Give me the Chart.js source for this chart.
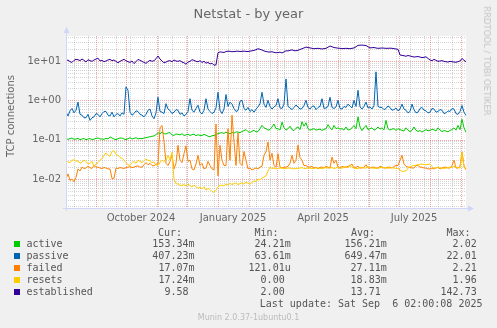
<!DOCTYPE html>
<html>
<head>
<meta charset="utf-8">
<script src="https://cdn.jsdelivr.net/npm/chart.js@4/dist/chart.umd.min.js"></script>
<style>
  html, body { margin: 0; padding: 0; background: #f0f0f0; }
  #wrap { position: relative; width: 497px; height: 328px; overflow: hidden; color: #666; font-family: "DejaVu Sans", sans-serif; }
  canvas { position: absolute; left: 0; top: 0; }
  .t { position: absolute; white-space: pre; line-height: 12px; }
  .mono { font-family: "DejaVu Sans Mono", monospace; font-size: 10px; color: #555; }
  .sw { position: absolute; width: 6px; height: 6px; }
</style>
</head>
<body>
<div id="wrap">
  <canvas id="c" width="497" height="328"></canvas>
</div>
<script>
// Samples every 2 days, 2024-08-02 .. 2025-09-06 (munin "year" view = 400 days)
const STEP_DAYS = 2;
const START = Date.UTC(2024, 7, 2);

const active = [
  0.105,0.102,0.106,0.110,0.102,0.104,0.108,0.100,0.104,0.107,0.100,0.104,0.106,0.101,0.103,0.108,0.110,0.104,0.104,0.102,
  0.108,0.104,0.118,0.110,0.104,0.100,0.106,0.110,0.110,0.104,0.100,0.106,0.112,0.104,0.108,0.112,0.104,0.108,0.106,0.110,
  0.112,0.116,0.118,0.122,0.124,0.135,0.150,0.140,0.156,0.142,0.140,0.148,0.152,0.132,0.128,0.140,0.136,0.132,0.142,0.128,
  0.132,0.138,0.128,0.134,0.138,0.126,0.134,0.128,0.128,0.136,0.130,0.122,0.118,0.126,0.128,0.134,0.142,0.148,0.150,0.144,
  0.156,0.146,0.142,0.152,0.146,0.158,0.156,0.150,0.162,0.170,0.180,0.160,0.152,0.165,0.172,0.158,0.160,0.190,0.230,0.200,
  0.190,0.175,0.180,0.210,0.250,0.190,0.190,0.176,0.280,0.200,0.175,0.190,0.220,0.180,0.170,0.195,0.210,0.180,0.286,0.220,
  0.270,0.190,0.175,0.182,0.190,0.176,0.180,0.186,0.172,0.182,0.190,0.240,0.200,0.178,0.230,0.190,0.200,0.185,0.190,0.176,
  0.210,0.176,0.180,0.200,0.230,0.190,0.380,0.210,0.170,0.200,0.230,0.180,0.190,0.200,0.174,0.186,0.210,0.185,0.200,0.178,
  0.310,0.190,0.175,0.186,0.190,0.172,0.190,0.180,0.172,0.166,0.200,0.176,0.160,0.172,0.210,0.174,0.162,0.170,0.156,0.168,
  0.180,0.168,0.172,0.184,0.178,0.166,0.200,0.176,0.160,0.170,0.165,0.158,0.172,0.180,0.200,0.175,0.230,0.180,0.330,0.200,
  0.153
];
const passive = [
  0.50,0.40,0.54,0.62,0.48,0.56,0.90,0.44,0.42,0.36,0.36,0.44,0.31,0.36,0.38,0.46,0.44,0.38,0.46,0.52,
  0.52,0.42,0.40,0.50,0.38,0.44,0.46,0.40,0.48,0.44,2.20,1.80,0.50,0.42,0.46,0.54,0.52,0.44,0.42,0.38,
  0.44,0.56,0.60,0.40,0.34,0.48,1.20,0.52,0.50,0.46,0.82,0.60,0.55,0.46,0.50,0.58,0.56,0.44,0.48,0.40,
  0.44,0.52,1.10,0.56,0.50,0.62,0.75,0.50,0.45,0.56,1.10,0.60,0.52,0.46,0.50,0.64,1.60,0.56,0.46,0.60,
  1.40,0.70,0.90,0.80,0.62,0.52,0.55,0.95,1.00,0.62,0.56,0.66,0.52,0.58,0.50,0.60,0.68,0.82,1.60,0.80,
  0.66,1.00,0.70,0.60,0.68,0.74,1.10,0.64,0.62,0.80,3.50,0.70,0.64,0.58,0.66,0.76,0.68,0.60,0.62,0.74,
  1.00,0.66,0.60,0.70,0.72,0.58,0.66,0.70,1.10,0.62,0.64,0.70,1.20,0.66,0.62,0.68,1.00,0.62,0.60,0.70,
  0.66,0.80,0.72,0.64,1.00,0.70,1.80,0.68,0.60,0.70,0.90,0.64,0.68,0.60,0.74,5.30,0.70,0.66,0.66,0.58,
  0.62,0.72,0.66,0.56,0.58,0.64,0.54,0.60,0.80,0.60,0.56,0.48,0.52,0.80,0.58,0.48,0.50,0.62,0.66,0.56,
  0.54,0.48,0.50,0.62,0.60,0.50,0.52,0.58,0.56,0.46,0.48,0.54,0.52,0.62,0.60,0.46,0.44,0.52,0.74,0.50,
  0.41
];
const failed = [
  0.0100,0.0135,0.0092,0.0100,0.0085,0.0110,0.0180,0.0160,0.0200,0.0185,0.0190,0.0210,0.0195,0.0185,0.0220,0.0200,0.0200,0.0190,0.0185,0.0195,
  0.0190,0.0180,0.0180,0.0102,0.0105,0.0190,0.0185,0.0195,0.0190,0.0185,0.0195,0.0200,0.0205,0.0195,0.0200,0.0210,0.0215,0.0200,0.0200,0.0230,
  0.0260,0.0230,0.0250,0.0220,0.0215,0.0240,0.0240,0.2000,0.2300,0.0900,0.0250,0.0220,0.0280,0.0400,0.0180,0.0250,0.0720,0.0300,0.0260,0.0440,
  0.0700,0.0280,0.0300,0.0180,0.0170,0.0240,0.0400,0.0220,0.0250,0.0180,0.0190,0.0280,0.0220,0.0180,0.0170,0.2500,0.0120,0.0720,0.0300,0.0220,
  0.0220,0.1900,0.0300,0.4200,0.0900,0.0220,0.1500,0.0250,0.0220,0.0500,0.0300,0.0180,0.0190,0.0170,0.0180,0.0190,0.0180,0.0200,0.0210,0.0400,
  0.0500,0.0870,0.0300,0.0450,0.0220,0.0200,0.0440,0.0200,0.0190,0.0200,0.0200,0.0210,0.0250,0.0400,0.0250,0.0300,0.0730,0.0350,0.0300,0.0220,
  0.0220,0.0200,0.0200,0.0210,0.0190,0.0200,0.0180,0.0200,0.0200,0.0190,0.0210,0.0200,0.0190,0.0360,0.0250,0.0300,0.0200,0.0190,0.0210,0.0200,
  0.0200,0.0210,0.0220,0.0240,0.0190,0.0200,0.0210,0.0190,0.0190,0.0200,0.0230,0.0190,0.0190,0.0200,0.0200,0.0190,0.0190,0.0210,0.0200,0.0190,
  0.0190,0.0200,0.0200,0.0190,0.0210,0.0220,0.0220,0.0300,0.0400,0.0240,0.0210,0.0200,0.0200,0.0190,0.0190,0.0220,0.0220,0.0200,0.0200,0.0190,
  0.0190,0.0180,0.0180,0.0190,0.0180,0.0190,0.0200,0.0180,0.0190,0.0200,0.0200,0.0190,0.0190,0.0220,0.0300,0.0190,0.0190,0.0210,0.0490,0.0220,
  0.0170
];
const resets = [
  0.0300,0.0270,0.0260,0.0300,0.0310,0.0280,0.0290,0.0250,0.0270,0.0300,0.0280,0.0240,0.0250,0.0280,0.0210,0.0240,0.0260,0.0300,0.0330,0.0400,
  0.0460,0.0400,0.0380,0.0500,0.0520,0.0420,0.0400,0.0350,0.0340,0.0300,0.0260,0.0230,0.0220,0.0260,0.0280,0.0250,0.0300,0.0280,0.0260,0.0290,
  0.0320,0.0300,0.0290,0.0260,0.0270,0.0230,0.0220,0.0260,0.0300,0.0280,0.0300,0.0400,0.0300,0.0480,0.0100,0.0076,0.0075,0.0069,0.0069,0.0072,
  0.0066,0.0074,0.0068,0.0062,0.0070,0.0064,0.0058,0.0062,0.0056,0.0064,0.0052,0.0058,0.0054,0.0048,0.0046,0.0052,0.0064,0.0068,0.0070,0.0066,
  0.0074,0.0070,0.0078,0.0072,0.0076,0.0080,0.0072,0.0076,0.0080,0.0074,0.0084,0.0078,0.0074,0.0082,0.0090,0.0086,0.0100,0.0094,0.0105,0.0112,
  0.0120,0.0160,0.0200,0.0185,0.0190,0.0180,0.0185,0.0192,0.0190,0.0182,0.0185,0.0190,0.0190,0.0184,0.0180,0.0188,0.0185,0.0190,0.0195,0.0186,
  0.0185,0.0190,0.0190,0.0184,0.0185,0.0192,0.0190,0.0186,0.0185,0.0190,0.0200,0.0188,0.0190,0.0196,0.0185,0.0190,0.0200,0.0186,0.0190,0.0196,
  0.0210,0.0190,0.0220,0.0200,0.0190,0.0185,0.0185,0.0195,0.0200,0.0190,0.0190,0.0200,0.0200,0.0188,0.0190,0.0186,0.0185,0.0195,0.0200,0.0192,
  0.0195,0.0188,0.0190,0.0194,0.0190,0.0186,0.0185,0.0170,0.0155,0.0158,0.0160,0.0190,0.0200,0.0215,0.0220,0.0225,0.0230,0.0236,0.0240,0.0232,
  0.0230,0.0236,0.0240,0.0210,0.0185,0.0192,0.0200,0.0190,0.0190,0.0186,0.0190,0.0194,0.0200,0.0196,0.0210,0.0200,0.0195,0.0190,0.0480,0.0200,
  0.0172
];
const established = [
  10.0,10.6,9.6,9.2,10.4,11.0,10.8,10.2,11.2,10.4,9.4,10.8,10.2,9.8,10.6,11.2,11.8,10.0,10.4,9.6,
  10.0,10.6,11.0,10.2,10.6,9.8,9.0,9.8,10.4,11.0,10.2,9.6,9.2,10.0,8.6,9.6,11.0,10.4,9.8,9.2,
  8.7,9.6,10.4,9.8,10.2,11.4,13.4,11.2,10.0,9.0,9.4,10.0,10.2,9.6,10.6,10.0,9.8,10.2,9.4,9.0,
  8.3,9.4,9.8,10.8,10.4,9.8,9.6,10.2,9.2,9.8,8.8,9.2,8.4,8.8,7.8,8.0,16.2,17.0,16.8,16.4,
  17.4,17.8,17.6,17.2,17.4,17.6,17.8,17.4,17.6,17.8,17.5,17.4,17.8,18.2,18.6,19.4,20.5,19.8,19.0,18.0,
  17.4,17.0,16.9,17.2,16.6,16.2,16.4,16.8,16.0,17.0,18.2,18.0,18.7,19.2,18.4,18.2,18.7,19.6,20.5,21.5,
  22.6,22.0,21.5,21.0,20.5,20.8,21.0,20.6,20.2,20.6,21.0,22.4,24.0,23.0,22.0,21.6,21.2,21.0,20.6,20.8,
  21.0,20.8,20.5,21.0,21.5,23.0,25.0,25.2,25.4,25.0,24.8,23.0,21.5,21.8,22.0,21.4,21.0,21.2,21.4,21.2,
  21.0,21.0,21.2,21.0,20.6,20.2,19.8,14.2,13.9,13.6,13.2,13.8,13.4,13.0,12.6,12.8,13.0,12.6,12.2,12.4,
  12.8,11.6,10.6,10.2,11.0,10.4,9.8,10.0,10.2,9.8,9.6,9.4,9.8,9.6,9.4,9.3,9.6,10.0,11.6,10.4,
  9.6
];

const seriesNames = ['active', 'passive', 'failed', 'resets', 'established'];
const seriesValues = [active, passive, failed, resets, established];
const seriesColors = ['#00cc00', '#0066b3', '#ff8000', '#ffcc00', '#330099'];

// Legend statistics
const curText = ['153.34m', '407.23m', '17.07m', '17.24m', '9.58'];
const minText = ['24.21m', '63.61m', '121.01u', '0.00', '2.00'];
const avgText = ['156.21m', '649.47m', '27.11m', '18.83m', '13.71'];
const maxText = ['2.02', '22.01', '2.21', '1.96', '142.73'];

// X axis labels (centered mid-month)
const xTickLabels = ['October 2024', 'January 2025', 'April 2025', 'July 2025'];
const xTickDates = [[2024, 9, 16], [2025, 0, 16], [2025, 3, 16], [2025, 6, 16]];
const yTickValues = [0.01, 0.1, 1, 10];

const DAY = 86400000;
const dayOf = (y, m, d) => (Date.UTC(y, m, d) - START) / DAY;
const X_MAX = dayOf(2025, 8, 6);
const Y_MIN = 0.00183, Y_MAX = 43.2;

function sci(v) {
  const e = Math.round(Math.log10(v));
  return '1e' + (e < 0 ? '-' : '+') + String(Math.abs(e)).padStart(2, '0');
}

// month starts (major grid) and fortnightly minor grid
const monthStarts = [];
for (let k = 0; k < 16; k++) {
  const d = dayOf(2024, 7 + k, 1);
  if (d > 0 && d < X_MAX) monthStarts.push(d);
}
const minorDays = [];
for (let d = dayOf(2024, 7, 10); d < X_MAX; d += 14) minorDays.push(d);

const rrdGrid = {
  id: 'rrdGrid',
  beforeDatasetsDraw(chart) {
    const { ctx, chartArea: a, scales: { x, y } } = chart;
    ctx.save();
    ctx.fillStyle = '#ffffff';
    ctx.fillRect(a.left, a.top, a.right - a.left, a.bottom - a.top);
    ctx.lineWidth = 1;
    ctx.setLineDash([1, 1]);
    const hline = (v) => {
      const py = Math.round(y.getPixelForValue(v)) + 0.5;
      if (py < a.top || py > a.bottom) return;
      ctx.beginPath(); ctx.moveTo(a.left, py); ctx.lineTo(a.right, py); ctx.stroke();
    };
    const vline = (d) => {
      const px = Math.round(x.getPixelForValue(d)) + 0.5;
      if (px < a.left || px > a.right) return;
      ctx.beginPath(); ctx.moveTo(px, a.top); ctx.lineTo(px, a.bottom); ctx.stroke();
    };
    ctx.strokeStyle = 'rgba(143,143,143,0.38)';
    for (let e = -3; e <= 1; e++) {
      for (let m = 2; m <= 9; m++) hline(m * Math.pow(10, e));
    }
    minorDays.forEach(vline);
    ctx.strokeStyle = 'rgba(224,80,80,0.5)';
    yTickValues.forEach(hline);
    monthStarts.forEach(vline);
    ctx.restore();
  },
  afterDraw(chart) {
    const { ctx, chartArea: a } = chart;
    ctx.save();
    ctx.strokeStyle = '#cfd6f8';
    ctx.fillStyle = '#cfd6f8';
    ctx.lineWidth = 1;
    const bx = a.left + 0.5, by = a.bottom + 0.5;
    ctx.beginPath();
    ctx.moveTo(bx, a.bottom + 3); ctx.lineTo(bx, a.top - 4);
    ctx.moveTo(a.left - 3, by); ctx.lineTo(a.right + 4, by);
    ctx.stroke();
    ctx.beginPath();
    ctx.moveTo(bx, a.top - 9); ctx.lineTo(bx - 3, a.top - 3); ctx.lineTo(bx + 3, a.top - 3); ctx.closePath(); ctx.fill();
    ctx.beginPath();
    ctx.moveTo(a.right + 8, by); ctx.lineTo(a.right + 2, by - 3); ctx.lineTo(a.right + 2, by + 3); ctx.closePath(); ctx.fill();
    ctx.restore();
  }
};

const datasets = seriesValues.map((vals, i) => ({
  label: seriesNames[i],
  data: vals.map((v, k) => ({ x: k * STEP_DAYS, y: v })),
  borderColor: seriesColors[i],
  borderWidth: 1,
  pointRadius: 0,
  tension: 0,
  fill: false,
  order: seriesValues.length - 1 - i
}));

const tickFont = { family: 'DejaVu Sans', size: 10 };

new Chart(document.getElementById('c'), {
  type: 'line',
  data: { datasets },
  options: {
    responsive: false,
    animation: false,
    devicePixelRatio: 1,
    layout: { padding: { top: 36, right: 31, bottom: 0, left: 0 } },
    plugins: { legend: { display: false }, tooltip: { enabled: false }, title: { display: false } },
    scales: {
      x: {
        type: 'linear', min: 0, max: X_MAX,
        afterFit(s) { s.height = 120; },
        afterBuildTicks(s) { s.ticks = xTickDates.map(d => ({ value: dayOf(d[0], d[1], d[2]) })); },
        ticks: { autoSkip: false, maxRotation: 0, padding: 4, color: '#666', font: tickFont,
                 callback: (v, i) => xTickLabels[i] },
        grid: { display: false, drawTicks: false },
        border: { display: false }
      },
      y: {
        type: 'logarithmic', min: Y_MIN, max: Y_MAX,
        afterFit(s) { s.width = 66; },
        afterBuildTicks(s) { s.ticks = yTickValues.map(v => ({ value: v })); },
        ticks: { autoSkip: false, padding: 5, color: '#666', font: tickFont, callback: (v) => sci(v) },
        grid: { display: false, drawTicks: false },
        border: { display: false }
      }
    }
  },
  plugins: [rrdGrid]
});

// Text around the graph
const wrap = document.getElementById('wrap');
function addText(txt, css, cls) {
  const el = document.createElement('div');
  el.className = 't' + (cls ? ' ' + cls : '');
  el.textContent = txt;
  Object.assign(el.style, css);
  wrap.appendChild(el);
  return el;
}
const W = 497;
addText('Netstat - by year', { left: '0px', width: W + 'px', textAlign: 'center', top: '8px', fontSize: '13px', color: '#666' });
addText('TCP connections', { left: '11px', top: '116px', fontSize: '10px', color: '#666', transform: 'translate(-50%,-50%) rotate(-90deg)' });
addText('RRDTOOL / TOBI OETIKER', { left: '487px', top: '61px', fontSize: '8.5px', color: '#c4c4c4', transform: 'translate(-50%,-50%) rotate(90deg)' });

const rightMono = (txt, right, cy) => addText(txt, { right: (W - right) + 'px', top: (cy - 6) + 'px' }, 'mono');
const withSuffix = (s) => /[0-9]$/.test(s) ? s + ' ' : s;

rightMono('Cur:', 182, 233.3);
rightMono('Min:', 278.5, 233.3);
rightMono('Avg:', 375, 233.3);
rightMono('Max:', 470.5, 233.3);
seriesNames.forEach((name, i) => {
  const cy = 244.3 + i * 12;
  const sw = document.createElement('div');
  sw.className = 'sw';
  sw.style.left = '14px';
  sw.style.top = (cy - 3) + 'px';
  sw.style.background = seriesColors[i];
  wrap.appendChild(sw);
  addText(name, { left: '26.5px', top: (cy - 6) + 'px' }, 'mono');
  rightMono(withSuffix(curText[i]), 194.5, cy);
  rightMono(withSuffix(minText[i]), 290.7, cy);
  rightMono(withSuffix(avgText[i]), 386.7, cy);
  rightMono(withSuffix(maxText[i]), 482.7, cy);
});
rightMono('Last update: Sat Sep  6 02:00:08 2025', 482.5, 304.3);
addText('Munin 2.0.37-1ubuntu0.1', { left: '0px', width: W + 'px', textAlign: 'center', top: '311.5px', fontSize: '8px', color: '#bbb' });
</script>
</body>
</html>
